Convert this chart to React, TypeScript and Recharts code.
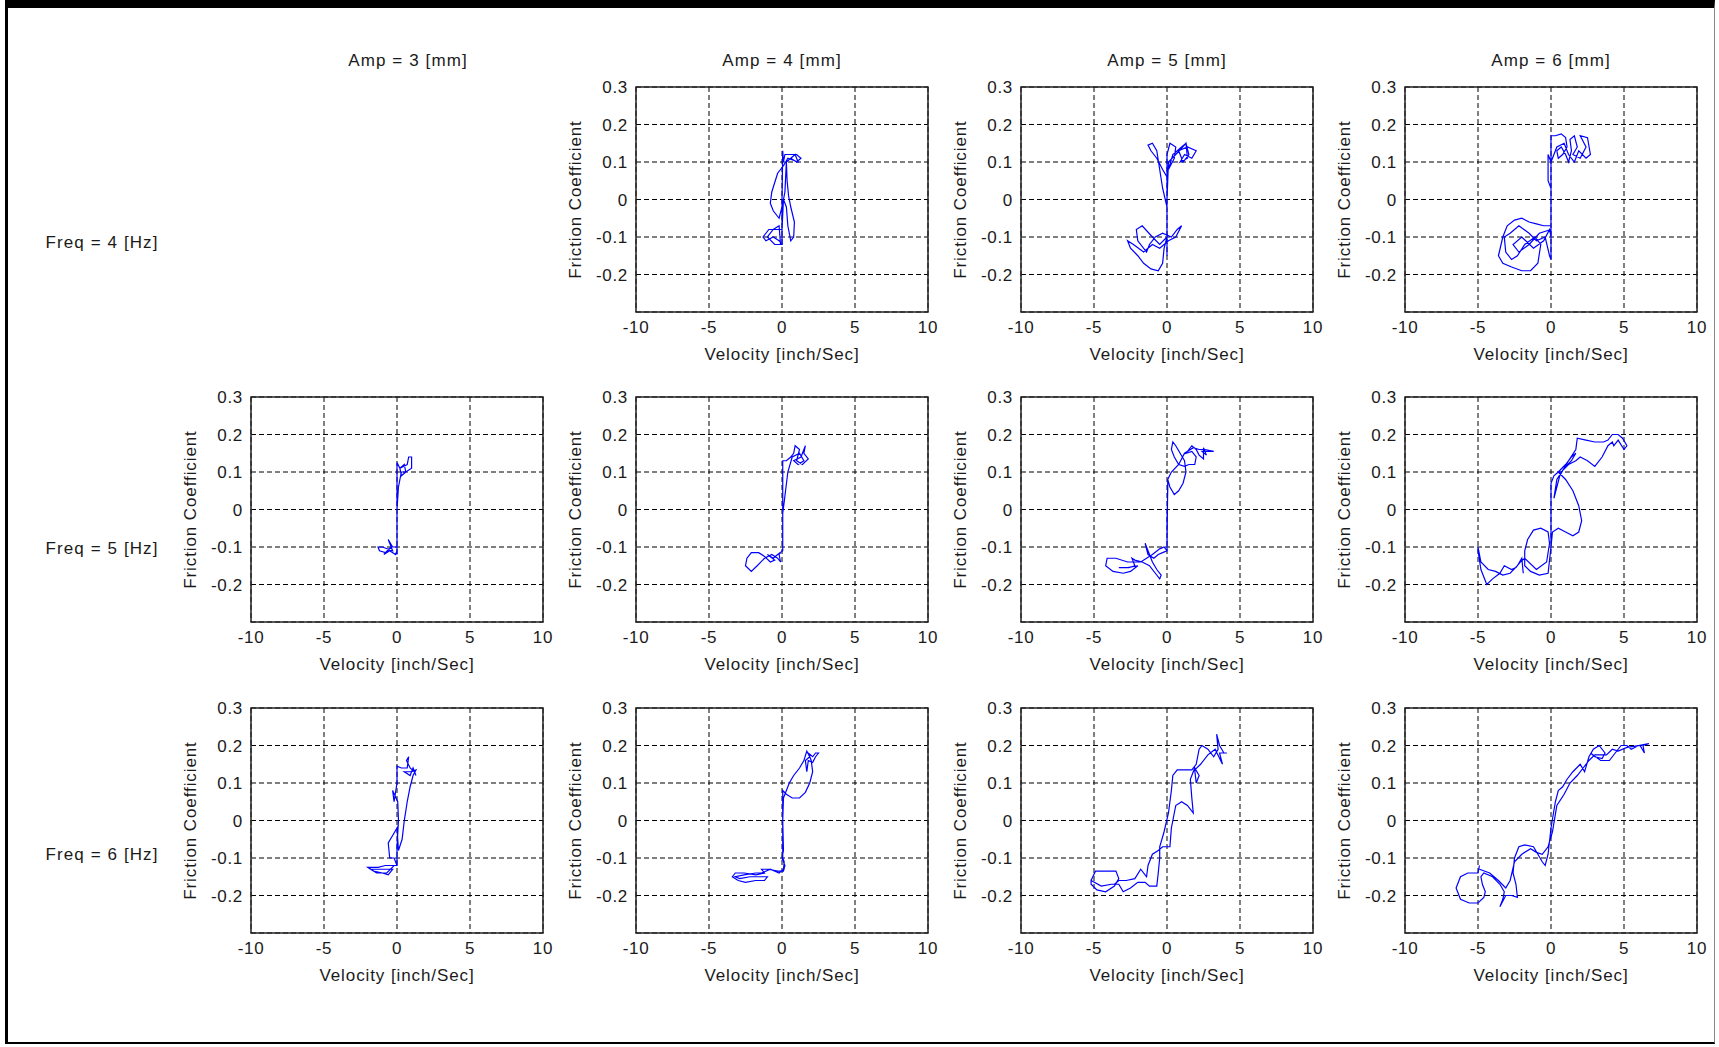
import { LineChart, Line, XAxis, YAxis, CartesianGrid, ReferenceArea } from 'recharts';

type Pair = [number, number];

// Amplitude columns and frequency rows of the test matrix
const AMP_LABELS = ['Amp = 3 [mm]', 'Amp = 4 [mm]', 'Amp = 5 [mm]', 'Amp = 6 [mm]'];
const FREQ_LABELS = ['Freq = 4 [Hz]', 'Freq = 5 [Hz]', 'Freq = 6 [Hz]'];

const VEL_TICKS = [-10, -5, 0, 5, 10];
const FRIC_TICKS = [-0.2, -0.1, 0, 0.1, 0.2, 0.3];

// [velocity inch/s, friction coefficient]
const f4a4: Pair[] = [
  [0, -0.12], [0, 0.0], [0.05, 0.13], [0.1, 0.1], [0.2, 0.12], [1.0, 0.12], [1.3, 0.11], [1.0, 0.1],
  [0.6, 0.11], [0.3, 0.1], [0.9, 0.12], [1.1, 0.1], [0.4, 0.11], [0.1, 0.09], [-0.3, 0.07], [-0.7, 0.02],
  [-0.8, -0.01], [-0.6, -0.03], [-0.2, -0.05], [0.0, -0.02], [0.2, 0.02], [0.3, 0.1], [0.35, 0.05],
  [0.45, 0.01], [0.6, -0.02], [0.85, -0.06], [0.8, -0.1], [0.6, -0.11], [0.4, -0.07], [0.3, -0.02],
  [0.1, 0.0], [0.0, -0.08], [-0.3, -0.08], [-0.9, -0.08], [-1.3, -0.1], [-1.1, -0.11], [-0.6, -0.1],
  [-0.2, -0.11], [0.0, -0.12], [-0.5, -0.12], [-1.0, -0.1], [-0.6, -0.08], [-0.2, -0.07], [-0.1, -0.12],
  [0.0, -0.12],
];

const f4a5: Pair[] = [
  [0, -0.15], [0, -0.03], [0, 0.06], [-0.3, 0.08], [-0.7, 0.11], [-1.1, 0.13], [-1.3, 0.145], [-1.0, 0.15],
  [-0.7, 0.13], [-0.5, 0.08], [-0.3, 0.03], [0, -0.02], [0, 0.12], [0.2, 0.15], [0.6, 0.14], [0.5, 0.11],
  [0.1, 0.08], [0.4, 0.12], [1.0, 0.14], [1.3, 0.15], [1.5, 0.12], [1.1, 0.1], [0.8, 0.13], [1.4, 0.14],
  [2.0, 0.13], [1.7, 0.11], [1.2, 0.12], [0.9, 0.1], [1.4, 0.11], [1.3, 0.15], [0.6, 0.12], [0.1, 0.1],
  [0, 0.0], [0, -0.1], [-0.5, -0.12], [-1.0, -0.1], [-1.7, -0.07], [-2.1, -0.08], [-2.0, -0.11],
  [-1.4, -0.14], [-1.2, -0.12], [-0.8, -0.1], [-0.3, -0.09], [0.3, -0.1], [0.7, -0.08], [1.0, -0.07],
  [0.6, -0.1], [0.1, -0.11], [-0.5, -0.13], [-1.0, -0.12], [-1.6, -0.14], [-2.3, -0.12], [-2.7, -0.11],
  [-2.5, -0.13], [-2.0, -0.15], [-1.6, -0.17], [-1.1, -0.185], [-0.6, -0.19], [-0.3, -0.17],
  [-0.2, -0.13], [0, -0.1],
];

const f4a6: Pair[] = [
  [0, -0.16], [0, 0.0], [0, 0.17], [0.3, 0.17], [0.7, 0.175], [1.0, 0.165], [1.1, 0.14], [0.8, 0.12],
  [0.5, 0.11], [0.4, 0.13], [0.7, 0.14], [1.0, 0.12], [1.2, 0.1], [1.4, 0.13], [1.3, 0.16], [1.6, 0.17],
  [1.8, 0.14], [1.5, 0.12], [2.0, 0.11], [2.4, 0.14], [2.0, 0.17], [2.5, 0.165], [2.7, 0.12], [2.4, 0.11],
  [1.9, 0.13], [1.6, 0.1], [1.2, 0.12], [0.9, 0.15], [0.4, 0.14], [0, 0.1], [-0.2, 0.12], [-0.2, 0.05],
  [0, 0.03], [0, -0.07], [-0.5, -0.07], [-1.0, -0.065], [-1.5, -0.06], [-2.0, -0.05], [-2.5, -0.055],
  [-3.0, -0.07], [-3.3, -0.1], [-3.6, -0.15], [-3.3, -0.17], [-2.7, -0.18], [-2.0, -0.19], [-1.4, -0.19],
  [-0.9, -0.17], [-0.7, -0.12], [-1.1, -0.1], [-1.8, -0.12], [-2.3, -0.15], [-2.7, -0.16], [-3.1, -0.14],
  [-3.2, -0.1], [-2.8, -0.09], [-2.2, -0.07], [-1.5, -0.09], [-1.0, -0.11], [-0.4, -0.1], [-0.1, -0.15],
  [0, -0.16], [0, -0.1], [-0.1, -0.08], [-0.5, -0.11], [-1.2, -0.13], [-2.0, -0.1], [-2.6, -0.12],
  [-2.2, -0.14], [-1.5, -0.12], [-0.8, -0.09], [0, -0.08],
];

const f5a3: Pair[] = [
  [0, -0.12], [0, 0.05], [0, 0.125], [0.2, 0.11], [0.5, 0.12], [0.6, 0.1], [0.3, 0.09], [0.2, 0.11],
  [0.7, 0.12], [0.8, 0.14], [1.0, 0.14], [1.0, 0.11], [0.6, 0.1], [0.3, 0.1], [0.1, 0.06], [0, 0.0],
  [0, -0.1], [-0.3, -0.1], [-0.6, -0.08], [-0.3, -0.11], [-1.0, -0.1], [-1.3, -0.1], [-1.2, -0.11],
  [-0.8, -0.115], [-0.4, -0.1], [-0.9, -0.12], [-0.5, -0.11], [-0.1, -0.12], [0, -0.11],
];

const f5a4: Pair[] = [
  [0.05, -0.11], [0.05, 0.0], [0.05, 0.13], [0.3, 0.13], [0.6, 0.14], [0.8, 0.15], [0.9, 0.17], [1.2, 0.16],
  [1.0, 0.13], [1.4, 0.12], [1.8, 0.135], [1.5, 0.15], [1.6, 0.17], [1.3, 0.14], [0.8, 0.13], [1.1, 0.12],
  [1.5, 0.13], [1.2, 0.15], [0.7, 0.14], [0.4, 0.1], [0.15, 0.02], [0.05, -0.01], [0.05, -0.11],
  [-0.3, -0.12], [-0.6, -0.13], [-1.0, -0.12], [-0.5, -0.135], [-0.8, -0.14], [-1.2, -0.125],
  [-1.6, -0.115], [-2.1, -0.115], [-2.4, -0.13], [-2.5, -0.15], [-2.1, -0.165], [-1.7, -0.15],
  [-1.2, -0.13], [-0.7, -0.12], [-0.3, -0.13], [-0.1, -0.14], [-0.2, -0.12], [0, -0.11],
];

const f5a5: Pair[] = [
  [0, -0.11], [0, -0.03], [0.05, 0.05], [0.05, 0.08], [0.2, 0.06], [0.5, 0.04], [0.8, 0.05], [1.1, 0.07],
  [1.3, 0.1], [1.2, 0.13], [0.9, 0.15], [0.6, 0.17], [0.4, 0.18], [0.3, 0.16], [0.5, 0.14], [0.8, 0.12],
  [1.2, 0.115], [1.5, 0.12], [1.9, 0.12], [2.0, 0.14], [1.7, 0.155], [1.3, 0.15], [1.7, 0.17], [2.0, 0.16],
  [2.2, 0.145], [2.5, 0.135], [2.5, 0.165], [2.7, 0.145], [2.4, 0.155], [3.0, 0.155], [3.2, 0.155],
  [2.6, 0.16], [2.2, 0.16], [1.8, 0.165], [1.2, 0.15], [0.8, 0.12], [0.3, 0.1], [0.05, 0.08], [0, -0.11],
  [-0.3, -0.115], [-0.6, -0.12], [-0.9, -0.13], [-1.3, -0.12], [-1.5, -0.09], [-1.3, -0.11], [-1.0, -0.14],
  [-0.7, -0.16], [-0.4, -0.175], [-0.5, -0.185], [-0.8, -0.17], [-1.2, -0.15], [-1.7, -0.14],
  [-2.2, -0.135], [-2.4, -0.13], [-2.2, -0.15], [-2.6, -0.155], [-3.3, -0.155], [-2.7, -0.155],
  [-2.0, -0.15], [-2.5, -0.165], [-3.0, -0.17], [-3.7, -0.165], [-4.2, -0.15], [-4.1, -0.13],
  [-3.5, -0.13], [-2.7, -0.14], [-1.8, -0.14], [-1.0, -0.12], [-0.5, -0.105], [-0.2, -0.1], [0, -0.11],
];

const f5a6: Pair[] = [
  [0, -0.09], [0, 0.0], [0, 0.07], [0.2, 0.09], [0.5, 0.1], [1.0, 0.12], [1.4, 0.14], [1.7, 0.15],
  [1.4, 0.13], [0.9, 0.11], [0.4, 0.08], [0.2, 0.03], [0.6, 0.09], [1.2, 0.13], [1.7, 0.16], [1.8, 0.19],
  [2.4, 0.185], [3.0, 0.18], [3.6, 0.18], [3.9, 0.185], [4.2, 0.2], [4.6, 0.2], [4.9, 0.19], [5.2, 0.17],
  [5.0, 0.16], [4.6, 0.185], [4.3, 0.17], [4.2, 0.18], [3.9, 0.17], [3.5, 0.14], [3.0, 0.115], [2.5, 0.13],
  [2.0, 0.14], [1.7, 0.13], [1.2, 0.12], [0.7, 0.1], [0.5, 0.1], [1.0, 0.08], [1.5, 0.05], [1.9, 0.01],
  [2.1, -0.03], [1.9, -0.06], [1.5, -0.07], [1.0, -0.06], [0.5, -0.05], [0.1, -0.06], [0, -0.1],
  [-0.2, -0.17], [-0.8, -0.175], [-1.4, -0.165], [-1.8, -0.15], [-1.8, -0.11], [-1.6, -0.08],
  [-1.2, -0.055], [-0.7, -0.05], [-0.2, -0.06], [-0.1, -0.09], [-0.3, -0.14], [-1.0, -0.16],
  [-1.8, -0.13], [-2.1, -0.14], [-2.4, -0.155], [-2.7, -0.16], [-3.2, -0.15], [-3.5, -0.17],
  [-4.0, -0.185], [-4.4, -0.2], [-4.6, -0.18], [-4.8, -0.16], [-5.0, -0.11], [-5.0, -0.1], [-4.8, -0.14],
  [-4.3, -0.16], [-3.8, -0.165], [-3.3, -0.175], [-2.8, -0.17], [-2.3, -0.15], [-2.0, -0.13],
  [-1.9, -0.17],
];

const f6a3: Pair[] = [
  [0, -0.12], [0, -0.07], [0.1, 0.0], [0.05, 0.05], [-0.3, 0.08], [-0.2, 0.05], [0, 0.1], [0, 0.145],
  [0.3, 0.14], [0.7, 0.14], [0.8, 0.17], [0.65, 0.16], [0.9, 0.14], [1.2, 0.13], [1.3, 0.12], [1.1, 0.14],
  [0.9, 0.12], [0.5, 0.13], [1.0, 0.13], [1.3, 0.135], [1.1, 0.12], [0.9, 0.09], [0.7, 0.05], [0.5, 0.0],
  [0.35, -0.05], [0.1, -0.08], [0, -0.02], [-0.3, -0.04], [-0.6, -0.06], [-0.5, -0.1], [-0.2, -0.1],
  [0, -0.12], [-0.3, -0.12], [-0.8, -0.12], [-1.3, -0.125], [-2.0, -0.125], [-1.6, -0.135], [-1.0, -0.14],
  [-0.6, -0.145], [-0.3, -0.13], [-1.2, -0.13], [-1.8, -0.13], [-1.4, -0.14], [-0.7, -0.14],
  [-0.2, -0.12], [0, -0.12],
];

const f6a4: Pair[] = [
  [0.05, -0.1], [0.05, 0.0], [0.05, 0.08], [0.3, 0.07], [0.7, 0.06], [1.2, 0.06], [1.6, 0.075], [1.9, 0.1],
  [2.1, 0.13], [2.0, 0.16], [1.8, 0.18], [2.1, 0.17], [2.3, 0.18], [2.5, 0.18], [2.3, 0.17], [2.1, 0.155],
  [1.8, 0.16], [1.7, 0.13], [1.6, 0.16], [1.9, 0.17], [1.7, 0.185], [1.5, 0.16], [1.2, 0.14], [0.8, 0.12],
  [0.5, 0.1], [0.3, 0.08], [0.1, 0.06], [0.05, 0.0], [0.1, -0.08], [0, -0.1], [0.2, -0.12], [0.1, -0.135],
  [-0.3, -0.135], [-0.9, -0.13], [-1.4, -0.13], [-1.2, -0.14], [-1.8, -0.145], [-2.6, -0.14],
  [-3.2, -0.14], [-3.4, -0.15], [-3.0, -0.16], [-2.5, -0.165], [-1.8, -0.16], [-1.2, -0.16],
  [-1.0, -0.15], [-1.5, -0.15], [-2.2, -0.15], [-2.9, -0.155], [-3.2, -0.15], [-2.6, -0.145],
  [-1.8, -0.14], [-1.4, -0.14], [-0.8, -0.13], [-0.2, -0.14], [0.1, -0.13], [0.15, -0.11], [0.05, -0.1],
];

const f6a5: Pair[] = [
  [-5.2, -0.16], [-4.9, -0.135], [-4.2, -0.135], [-3.5, -0.135], [-3.3, -0.155], [-3.6, -0.175],
  [-4.2, -0.19], [-4.8, -0.185], [-5.2, -0.17], [-5.2, -0.16], [-4.5, -0.175], [-3.8, -0.17],
  [-3.3, -0.17], [-3.0, -0.19], [-2.5, -0.18], [-2.0, -0.165], [-1.5, -0.165], [-1.2, -0.175],
  [-0.7, -0.175], [-0.6, -0.14], [-0.5, -0.1], [-0.5, -0.07], [-0.2, -0.03], [0.1, 0.02], [0.3, 0.08],
  [0.4, 0.12], [0.7, 0.135], [1.2, 0.135], [1.7, 0.135], [2.0, 0.15], [2.2, 0.19], [2.4, 0.2], [2.8, 0.19],
  [3.2, 0.17], [3.5, 0.19], [3.4, 0.23], [3.6, 0.2], [3.9, 0.18], [4.1, 0.18], [3.6, 0.18], [3.8, 0.15],
  [3.3, 0.19], [2.8, 0.175], [2.3, 0.15], [1.9, 0.135], [2.0, 0.1], [2.2, 0.12], [1.9, 0.14], [1.6, 0.11],
  [1.7, 0.06], [1.8, 0.02], [1.4, 0.04], [1.0, 0.05], [0.6, 0.04], [0.3, -0.02], [0.2, -0.07],
  [-0.3, -0.07], [-0.6, -0.08], [-1.0, -0.09], [-1.3, -0.12], [-1.4, -0.15], [-1.8, -0.13],
  [-2.2, -0.155], [-2.8, -0.16], [-3.3, -0.16], [-3.6, -0.17],
];

const f6a6: Pair[] = [
  [-4.9, -0.12], [-5.0, -0.14], [-5.7, -0.14], [-6.2, -0.15], [-6.5, -0.18], [-6.2, -0.21], [-5.6, -0.22],
  [-5.0, -0.22], [-4.6, -0.205], [-4.5, -0.19], [-4.7, -0.17], [-4.8, -0.15], [-4.6, -0.14], [-4.0, -0.15],
  [-3.5, -0.17], [-3.2, -0.19], [-3.3, -0.21], [-3.5, -0.23], [-3.1, -0.2], [-2.7, -0.2], [-2.3, -0.205],
  [-2.4, -0.17], [-2.6, -0.14], [-2.5, -0.1], [-2.2, -0.07], [-1.8, -0.065], [-1.2, -0.07], [-0.9, -0.09],
  [-0.6, -0.11], [-0.4, -0.12], [-0.2, -0.09], [0, -0.02], [0.3, 0.05], [0.5, 0.08], [0.8, 0.09],
  [1.1, 0.11], [1.5, 0.13], [2.0, 0.15], [2.3, 0.13], [2.6, 0.17], [2.9, 0.19], [3.3, 0.2], [3.7, 0.18],
  [3.5, 0.165], [3.0, 0.17], [2.7, 0.18], [3.4, 0.16], [4.0, 0.16], [4.4, 0.18], [4.8, 0.2], [5.2, 0.2],
  [5.5, 0.19], [6.0, 0.2], [6.7, 0.205], [6.3, 0.2], [6.4, 0.18], [6.1, 0.2], [5.2, 0.195], [4.6, 0.185],
  [4.2, 0.19], [3.8, 0.175], [3.0, 0.175], [2.6, 0.16], [2.2, 0.14], [1.8, 0.12], [1.3, 0.1], [0.9, 0.07],
  [0.4, 0.04], [0.1, -0.03], [-0.2, -0.07], [-0.6, -0.09], [-1.0, -0.085], [-1.4, -0.075], [-2.0, -0.09],
  [-2.5, -0.11], [-2.8, -0.16], [-3.1, -0.18], [-3.6, -0.16], [-4.2, -0.14], [-4.9, -0.13],
];

// rows = frequency, cols = amplitude; no test at 4 Hz / 3 mm
const GRID: (Pair[] | null)[][] = [
  [null, f4a4, f4a5, f4a6],
  [f5a3, f5a4, f5a5, f5a6],
  [f6a3, f6a4, f6a5, f6a6],
];

const COL_LEFT = [251, 636, 1021, 1405];
const ROW_TOP = [87, 397, 708];
const PLOT_W = 292;
const PLOT_H = 225;
const Y_AXIS_W = 80;
const X_AXIS_H = 58;

const FONT = '"Liberation Sans", Arial, sans-serif';
const TEXT = '#1a1a1a';
const tickStyle = { fill: TEXT, fontSize: 17, fontFamily: FONT, letterSpacing: 0.7 };
const labelStyle = { fill: TEXT, fontSize: 17, fontFamily: FONT, letterSpacing: 0.9, textAnchor: 'middle' as const };

function Panel({ points, left, top }: { points: Pair[]; left: number; top: number }) {
  const data = points.map(([v, f]) => ({ v, f }));
  return (
    <div style={{ position: 'absolute', left: left - Y_AXIS_W, top: top - 10 }}>
      <LineChart
        width={Y_AXIS_W + PLOT_W + 20}
        height={10 + PLOT_H + X_AXIS_H}
        margin={{ top: 10, right: 20, bottom: 0, left: 0 }}
      >
        <CartesianGrid stroke="#000" strokeDasharray="5 3" strokeWidth={1} />
        <XAxis
          type="number"
          dataKey="v"
          domain={[-10, 10]}
          ticks={VEL_TICKS}
          interval={0}
          allowDataOverflow
          tickLine={false}
          axisLine={false}
          tickSize={6}
          tickMargin={3}
          height={X_AXIS_H}
          tick={tickStyle}
          label={{ value: 'Velocity [inch/Sec]', position: 'insideBottom', offset: 10, style: labelStyle }}
        />
        <YAxis
          type="number"
          dataKey="f"
          domain={[-0.3, 0.3]}
          ticks={FRIC_TICKS}
          interval={0}
          allowDataOverflow
          tickLine={false}
          axisLine={false}
          tickSize={6}
          tickMargin={2}
          width={Y_AXIS_W}
          tick={tickStyle}
          label={{ value: 'Friction Coefficient', angle: -90, position: 'insideLeft', offset: 19, style: labelStyle }}
        />
        <ReferenceArea x1={-10} x2={10} y1={-0.3} y2={0.3} fill="none" stroke="#222" strokeWidth={1.5} />
        <Line
          data={data}
          dataKey="f"
          type="linear"
          stroke="#0000ff"
          strokeWidth={1.2}
          dot={false}
          activeDot={false}
          isAnimationActive={false}
        />
      </LineChart>
    </div>
  );
}

export default function App() {
  return (
    <div
      style={{
        position: 'absolute',
        left: 0,
        top: 0,
        width: 1719,
        height: 1047,
        background: '#fff',
        fontFamily: FONT,
        color: TEXT,
      }}
    >
      <div
        style={{
          position: 'absolute',
          left: 5,
          top: 0,
          width: 1710,
          height: 1044,
          borderTop: '8px solid #000',
          borderLeft: '3px solid #000',
          borderBottom: '2px solid #000',
          borderRight: '1px solid #888',
          boxSizing: 'border-box',
        }}
      />
      {AMP_LABELS.map((t, i) => (
        <div
          key={t}
          style={{
            position: 'absolute',
            left: (i === 0 ? 408 : COL_LEFT[i] + PLOT_W / 2) - 100,
            top: 51,
            width: 200,
            textAlign: 'center',
            fontSize: 17,
            letterSpacing: 1.1,
            lineHeight: '20px',
          }}
        >
          {t}
        </div>
      ))}
      {FREQ_LABELS.map((t, i) => (
        <div
          key={t}
          style={{
            position: 'absolute',
            left: 2,
            top: [243, 549, 855][i] - 10,
            width: 200,
            textAlign: 'center',
            fontSize: 17,
            letterSpacing: 1.1,
            lineHeight: '20px',
          }}
        >
          {t}
        </div>
      ))}
      {GRID.map((row, r) =>
        row.map((pts, c) =>
          pts ? <Panel key={`${r}-${c}`} points={pts} left={COL_LEFT[c]} top={ROW_TOP[r]} /> : null
        )
      )}
    </div>
  );
}
